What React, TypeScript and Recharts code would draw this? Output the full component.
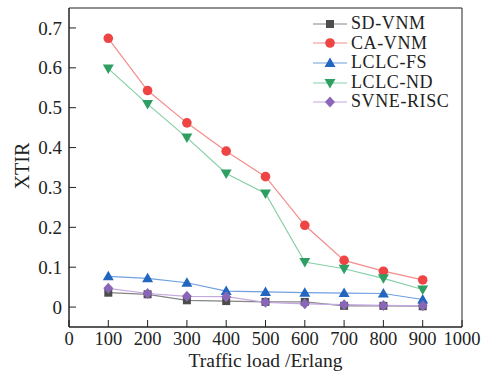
import React from "react";
import { LineChart, Line, XAxis, YAxis, Legend, ReferenceArea } from "recharts";

const loads = [100, 200, 300, 400, 500, 600, 700, 800, 900];
const sdVnm = [0.036, 0.032, 0.017, 0.015, 0.013, 0.013, 0.003, 0.003, 0.002];
const caVnm = [0.674, 0.543, 0.462, 0.391, 0.327, 0.205, 0.117, 0.09, 0.068];
const lclcFs = [0.077, 0.072, 0.061, 0.04, 0.038, 0.036, 0.035, 0.034, 0.019];
const lclcNd = [0.598, 0.509, 0.425, 0.335, 0.285, 0.113, 0.096, 0.072, 0.044];
const svneRisc = [0.047, 0.034, 0.027, 0.026, 0.012, 0.008, 0.006, 0.004, 0.003];

const xTicks = [0, 100, 200, 300, 400, 500, 600, 700, 800, 900, 1000];
const yTicks = [0, 0.1, 0.2, 0.3, 0.4, 0.5, 0.6, 0.7];

const data = loads.map((load, i) => ({
  load,
  sd: sdVnm[i],
  ca: caVnm[i],
  fs: lclcFs[i],
  nd: lclcNd[i],
  svne: svneRisc[i],
}));

type Shape = "square" | "circle" | "up" | "down" | "diamond";

const series: { key: string; name: string; line: string; fill: string; shape: Shape }[] = [
  { key: "sd", name: "SD-VNM", line: "#858585", fill: "#4d4d4d", shape: "square" },
  { key: "ca", name: "CA-VNM", line: "#f48c8c", fill: "#ee4444", shape: "circle" },
  { key: "fs", name: "LCLC-FS", line: "#6f9fe0", fill: "#2266c0", shape: "up" },
  { key: "nd", name: "LCLC-ND", line: "#86d0a8", fill: "#2f9e62", shape: "down" },
  { key: "svne", name: "SVNE-RISC", line: "#c4a8e2", fill: "#8a66b8", shape: "diamond" },
];

const FONT = '"Liberation Serif", "Times New Roman", serif';
const INK = "#222";

function Marker({ cx, cy, shape, fill }: { cx: number; cy: number; shape: Shape; fill: string }) {
  if (cx == null || cy == null) return null;
  switch (shape) {
    case "square":
      return <rect x={cx - 4} y={cy - 4} width={8} height={8} fill={fill} />;
    case "circle":
      return <circle cx={cx} cy={cy} r={4.8} fill={fill} />;
    case "up":
      return <polygon points={`${cx},${cy - 5.5} ${cx - 5.5},${cy + 4} ${cx + 5.5},${cy + 4}`} fill={fill} />;
    case "down":
      return <polygon points={`${cx},${cy + 5.5} ${cx - 5.5},${cy - 4} ${cx + 5.5},${cy - 4}`} fill={fill} />;
    default:
      return <polygon points={`${cx},${cy - 5.5} ${cx + 5},${cy} ${cx},${cy + 5.5} ${cx - 5},${cy}`} fill={fill} />;
  }
}

function XTick({ x, y, payload }: any) {
  return (
    <g>
      <line x1={x} x2={x} y1={y} y2={y - 7} stroke={INK} />
      <text x={x} y={y + 18} textAnchor="middle" fontFamily={FONT} fontSize={18.5} fill={INK}>
        {payload.value}
      </text>
    </g>
  );
}

function YTick({ x, y, payload }: any) {
  return (
    <g>
      <line x1={x} x2={x + 7} y1={y} y2={y} stroke={INK} />
      <text x={x - 7} y={y} dy="0.35em" textAnchor="end" fontFamily={FONT} fontSize={19} fill={INK}>
        {payload.value}
      </text>
    </g>
  );
}

function LegendBox() {
  return (
    <div style={{ fontFamily: FONT, fontSize: 18, letterSpacing: 0.6, color: INK }}>
      {series.map((s) => (
        <div key={s.key} style={{ display: "flex", alignItems: "center", height: 19.6 }}>
          <svg width={40} height={18} style={{ display: "block" }}>
            <line x1={2} x2={36} y1={9} y2={9} stroke={s.line} strokeWidth={1.2} />
            <Marker cx={19} cy={9} shape={s.shape} fill={s.fill} />
          </svg>
          <span style={{ lineHeight: "19.6px" }}>{s.name}</span>
        </div>
      ))}
    </div>
  );
}

export default function App() {
  return (
    <div style={{ position: "absolute", left: 0, top: 0, background: "#fff" }}>
      <LineChart width={487} height={375} data={data} margin={{ top: 8, right: 25, left: 0, bottom: 0 }}>
        <XAxis
          dataKey="load"
          type="number"
          domain={[0, 1000]}
          ticks={xTicks}
          interval={0}
          height={48}
          tickSize={0}
          tickMargin={0}
          tickLine={false}
          axisLine={{ stroke: INK }}
          tick={<XTick />}
          label={{
            content: () => (
              <text x={265.5} y={367} textAnchor="middle" fontFamily={FONT} fontSize={19.5} fill={INK}>
                Traffic load /Erlang
              </text>
            ),
          }}
        />
        <YAxis
          type="number"
          domain={[-0.05, 0.75]}
          ticks={yTicks}
          interval={0}
          width={69}
          tickSize={0}
          tickMargin={0}
          tickLine={false}
          axisLine={{ stroke: INK }}
          tick={<YTick />}
          label={{
            content: () => (
              <text
                x={22}
                y={166}
                textAnchor="middle"
                dy="0.35em"
                transform="rotate(-90 22 166)"
                fontFamily={FONT}
                fontSize={20}
                fill={INK}
              >
                XTIR
              </text>
            ),
          }}
        />
        <ReferenceArea x1={0} x2={1000} y1={-0.05} y2={0.75} fill="none" stroke={INK} strokeWidth={1} />
        {series.map((s) => (
          <Line
            key={s.key}
            type="linear"
            dataKey={s.key}
            name={s.name}
            stroke={s.line}
            strokeWidth={1.2}
            dot={(p: any) => <Marker key={`${s.key}-${p.index}`} cx={p.cx} cy={p.cy} shape={s.shape} fill={s.fill} />}
            activeDot={false}
            isAnimationActive={false}
          />
        ))}
        <Legend
          layout="vertical"
          align="center"
          verticalAlign="middle"
          wrapperStyle={{ top: 14, left: 311, width: 170 }}
          content={() => <LegendBox />}
        />
      </LineChart>
    </div>
  );
}
